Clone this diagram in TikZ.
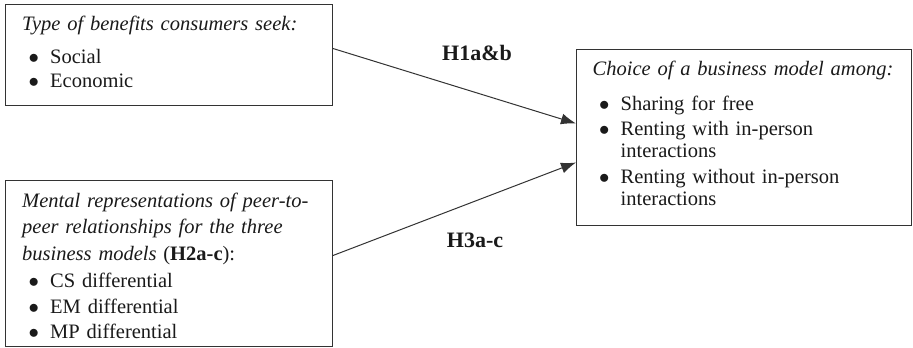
\documentclass[tikz,border=0pt]{standalone}
\usepackage{fontspec}
\setmainfont{Liberation Serif}
\usetikzlibrary{arrows.meta}
\definecolor{ink}{HTML}{1A1A1A}
\definecolor{edge}{HTML}{333333}
\newcommand{\bul}{\hspace*{6.5pt}\makebox[21.5pt][l]{$\bullet$}}
\newcommand{\cont}{\hspace*{28pt}}
\begin{document}
\begin{tikzpicture}[x=1pt,y=-1pt,
 box/.style={draw=edge, line width=1pt, anchor=north west, inner sep=0pt},
 txt/.style={anchor=base west, inner sep=0pt, align=left, text=ink, font=\fontsize{20.5}{24}\selectfont, text width=310pt},
 lab/.style={font=\fontsize{22}{26}\selectfont\bfseries, text=ink, inner sep=0pt},
 arr/.style={draw=edge, line width=1pt, -{Latex[length=15pt,width=11pt]}}]
\useasboundingbox[fill=white] (0,0) rectangle (913,348);
\node[box, minimum width=327pt, minimum height=101pt] (b1) at (5,4) {};
\node[box, minimum width=327pt, minimum height=166pt] (b2) at (5,180) {};
\node[box, minimum width=335pt, minimum height=176pt] (b3) at (576,49) {};
\node[txt] (t1) at (22,30) {\textit{Type of benefits consumers seek:}\\[9pt]
 \bul Social\\[1pt]
 \bul Economic};
\node[txt] (t2) at (22,207) {\textit{Mental representations of peer-to-}\\[2pt]
 \textit{peer relationships for the three}\\[3pt]
 \textit{business models} (\textbf{H2a-c}):\\[3pt]
 \bul CS differential\\[2pt]
 \bul EM differential\\[1pt]
 \bul MP differential};
\node[txt] (t3) at (592.5,75.5) {\textit{Choice of a business model among:}\\[10.5pt]
 \bul Sharing for free\\[1pt]
 \bul Renting with in-person\\[-2pt]
 \cont interactions\\[2pt]
 \bul Renting without in-person\\[-2pt]
 \cont interactions};
\draw[arr] ([yshift=6.5pt]b1.east) -- ([yshift=14pt]b3.west);
\draw[arr] ([yshift=8pt]b2.east) -- ([yshift=-25pt]b3.west);
\node[lab] (l1) at (477,53) {H1a\&b};
\node[lab] (l2) at (475,240) {H3a-c};
\end{tikzpicture}
\end{document}
